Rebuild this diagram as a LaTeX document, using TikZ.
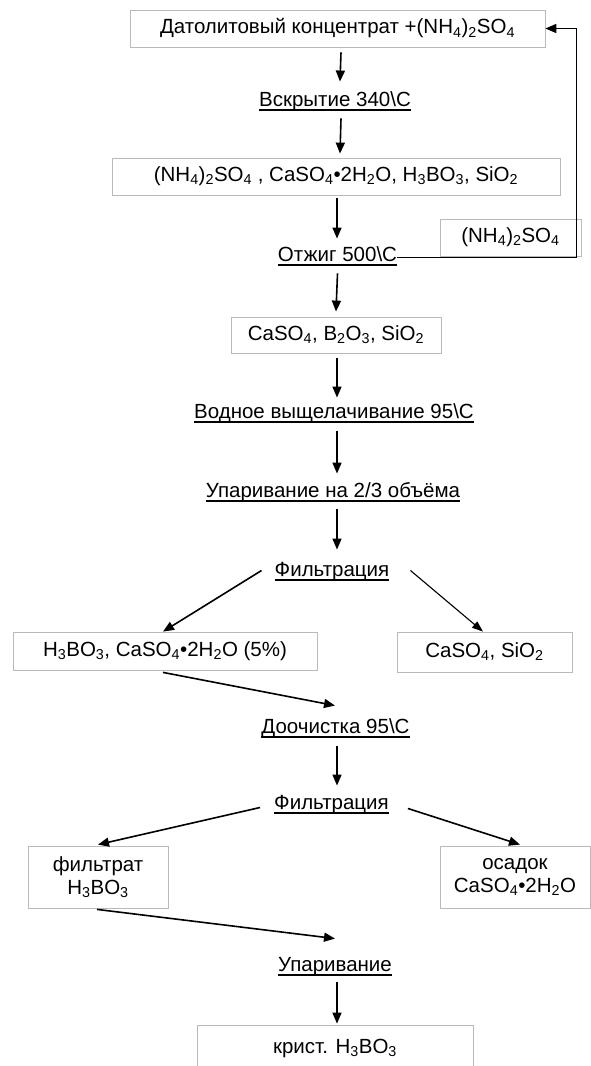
\documentclass[tikz,border=0pt]{standalone}
\usepackage{fontspec}
\setmainfont{Liberation Sans}
\usetikzlibrary{arrows.meta}
\newcommand{\sbs}[1]{\textsubscript{#1}}
\begin{document}
\begin{tikzpicture}[x=1pt,y=-1pt,
  font=\fontsize{20.5}{23}\selectfont,
  box/.style={draw=black!27, line width=0.8pt, inner sep=0pt, align=center},
  lbl/.style={inner sep=0pt, text height=15pt, text depth=4.5pt},
  arr/.style={line width=1.6pt, -{Triangle[length=11pt,width=9pt]}},
  thinarr/.style={line width=1.1pt, -{Triangle[length=11pt,width=8pt]}},
  ul/.style={line width=1.4pt}]
\useasboundingbox (0,0) rectangle (591,1066);
\fill[white] (0,0) rectangle (591,1066);
% boxes
\node[box, minimum width=415pt, minimum height=37pt] (box1) at (337.5,28.5) {Датолитовый  концентрат +(NH\sbs{4})\sbs{2}SO\sbs{4}};
\node[box, minimum width=448pt, minimum height=37pt] (box2) at (336,176.5) {(NH\sbs{4})\sbs{2}SO\sbs{4} , CaSO\sbs{4}•2H\sbs{2}O, H\sbs{3}BO\sbs{3}, SiO\sbs{2}};
\node[box, minimum width=141pt, minimum height=37pt] (boxnh) at (510.5,237.5) {(NH\sbs{4})\sbs{2}SO\sbs{4}};
\node[box, minimum width=210pt, minimum height=36pt] (box3) at (336,335) {CaSO\sbs{4}, B\sbs{2}O\sbs{3}, SiO\sbs{2}};
\node[box, minimum width=304pt, minimum height=38pt] (boxl1) at (165,651) {H\sbs{3}BO\sbs{3}, CaSO\sbs{4}•2H\sbs{2}O (5\%)};
\node[box, minimum width=175pt, minimum height=40pt] (boxr1) at (484.5,652) {CaSO\sbs{4}, SiO\sbs{2}};
\node[box, minimum width=140pt, minimum height=62pt] (boxf) at (98,877) {фильтрат\\H\sbs{3}BO\sbs{3}};
\node[box, minimum width=150pt, minimum height=62pt] (boxo) at (515,877) {осадок\\CaSO\sbs{4}•2H\sbs{2}O};
\node[box, minimum width=276pt, minimum height=50pt] (boxk) at (335,1050) {};
\node (ktext) at (335,1048) {крист. H\sbs{3}BO\sbs{3}};
% labels
\node[lbl] (l1) at (335,101.5) {Вскрытие 340\textbackslash С};
\node[lbl] (l2) at (337.5,256.5) {Отжиг 500\textbackslash С};
\node[lbl] (l3) at (334,413.5) {Водное выщелачивание 95\textbackslash С};
\node[lbl] (l4) at (333,492.5) {Упаривание на 2/3 объёма};
\node[lbl] (l5) at (332,571.5) {Фильтрация};
\node[lbl] (l6) at (335.5,728.5) {Доочистка 95\textbackslash С};
\node[lbl] (l7) at (331.5,804.5) {Фильтрация};
\node[lbl] (l8) at (335,966.5) {Упаривание};
\foreach \n in {l1,l2,l3,l4,l5,l6,l7,l8}
  \draw[ul] ([yshift=1.5pt]\n.south west) -- ([yshift=1.5pt]\n.south east);
% connectors
\draw[arr] ([xshift=3.5pt,yshift=-5pt]box1.south) -- ([xshift=5pt,yshift=10pt]l1.north);
\draw[arr] ([xshift=6pt,yshift=-7pt]l1.south) -- ([xshift=4pt,yshift=4pt]box2.north);
\draw[arr] ([xshift=1pt,yshift=-3pt]box2.south) -- ([xshift=-0.5pt,yshift=8pt]l2.north);
\draw[arr] ([yshift=-7pt]l2.south) -- ([yshift=5pt]box3.north);
\draw[arr] ([xshift=1pt,yshift=-5pt]box3.south) -- ([xshift=3pt,yshift=6pt]l3.north);
\draw[arr] ([xshift=3pt,yshift=-8pt]l3.south) -- ([xshift=4pt,yshift=9pt]l4.north);
\draw[arr] ([xshift=4pt,yshift=-7pt]l4.south) -- ([xshift=5pt,yshift=12pt]l5.north);
\draw[arr] ([xshift=-13pt,yshift=1pt]l5.west) -- ([xshift=-2pt]boxl1.north);
\draw[thinarr] ([xshift=21pt,yshift=1pt]l5.east) -- ([xshift=-1.5pt]boxr1.north);
\draw[arr] ([xshift=-2pt,yshift=-2pt]boxl1.south) -- ([xshift=-0.5pt,yshift=13pt]l6.north);
\draw[arr] ([xshift=1.5pt,yshift=-8pt]l6.south) -- ([xshift=5.5pt,yshift=9pt]l7.north);
\draw[arr] ([xshift=-14pt,yshift=-3pt]l7.west) -- ([yshift=1pt]boxf.north);
\draw[arr] ([xshift=19pt,yshift=-4pt]l7.east) -- ([xshift=5pt,yshift=1pt]boxo.north);
\draw[arr] ([xshift=-1pt,yshift=-1pt]boxf.south) -- ([yshift=18pt]l8.north);
\draw[arr] ([xshift=2pt,yshift=-6pt]l8.south) -- ([xshift=2pt,yshift=1pt]boxk.north);
% feedback loop
\draw[arr] ([yshift=-1pt]l2.east) -| ([xshift=31pt]box1.east) -- (box1.east);
\end{tikzpicture}
\end{document}
